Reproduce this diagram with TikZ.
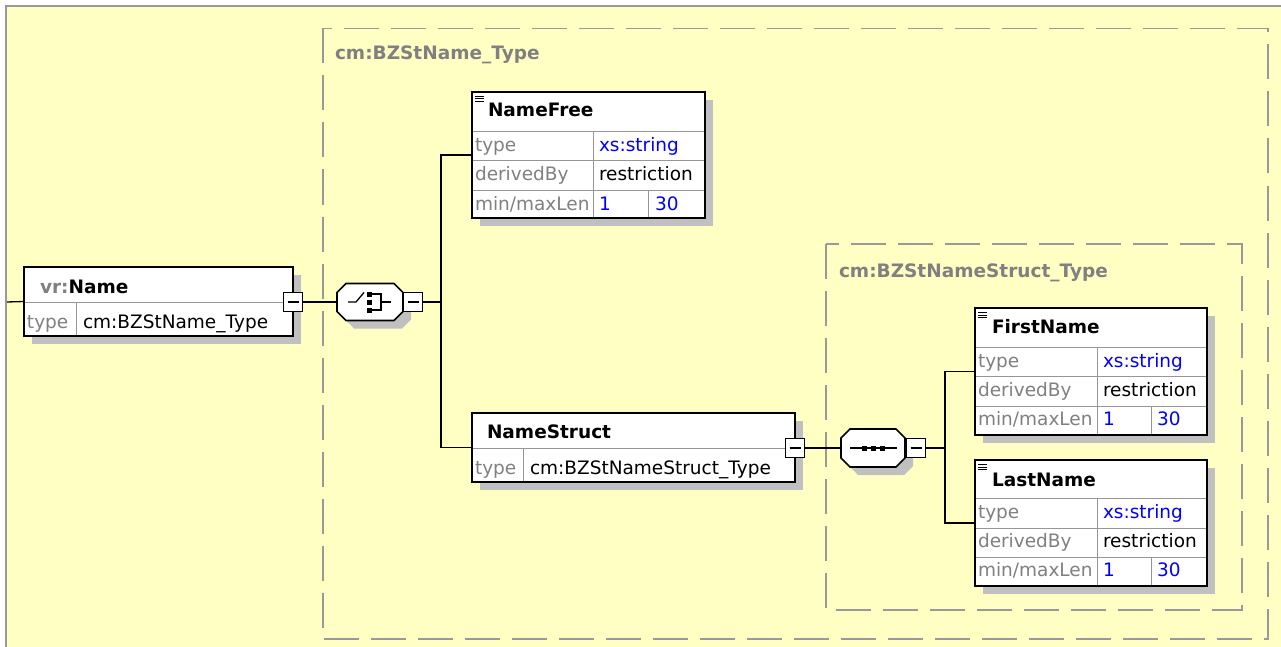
\documentclass[tikz,border=0pt]{standalone}
\usepackage{fontspec}
\setmainfont{DejaVu Sans}
\usetikzlibrary{shadows,calc}
\definecolor{paper}{RGB}{255,255,196}
\definecolor{frame}{RGB}{153,153,153}
\definecolor{shade}{RGB}{192,192,192}
\definecolor{label}{RGB}{128,128,128}
\definecolor{grid}{RGB}{150,150,150}
\definecolor{val}{RGB}{0,0,255}
\pgfdeclarelayer{bg}
\pgfsetlayers{bg,main}
\tikzset{
  every node/.style={font=\fontsize{18.5}{22}\selectfont, inner sep=0pt, outer sep=0pt},
  elem/.style={rectangle, draw=black, fill=white, line width=1.6pt,
    drop shadow={shadow xshift=8pt, shadow yshift=-8pt, fill=shade, opacity=1}},
  hit/.style={rectangle, draw=none},
  octa/.style={draw=black, fill=white, line width=1.6pt,
    drop shadow={shadow xshift=8pt, shadow yshift=-8pt, fill=shade, opacity=1}},
  collapse/.style={rectangle, draw=black, fill=white, line width=1.2pt,
    minimum width=19pt, minimum height=19pt},
  conn/.style={draw=black, line width=1.3pt},
  cell/.style={draw=grid, line width=1pt},
  group/.style={draw=frame, line width=1.6pt, dash pattern=on 35pt off 12pt},
  txt/.style={anchor=base west},
  key/.style={txt, text=label},
  val/.style={txt, text=val},
  hd/.style={txt, font=\fontsize{18.5}{22}\selectfont\bfseries},
  grouplbl/.style={txt, text=label, font=\fontsize{18.5}{22}\selectfont\bfseries},
  icon/.style={draw=black, line width=1pt},
}
\begin{document}
\begin{tikzpicture}[x=1pt,y=-1pt]
\useasboundingbox (0,0) rectangle (1281,647);

% canvas and window edge
\begin{pgfonlayer}{bg}
  \fill[white] (0,0) rectangle (1281,647);
  \fill[paper] (6,6) rectangle (1281,647);
  \fill[frame] (5,5) rectangle (1281,7);
  \fill[frame] (5,5) rectangle (7,647);
  % complex type groups
  \draw[group] (323,28.5) rectangle (1268,639);
  \draw[group] (826,244) rectangle (1242,610);
\end{pgfonlayer}

\node[grouplbl] (g1) at (335,60) {cm:BZStName\_Type};
\node[grouplbl] (g2) at (839,277) {cm:BZStNameStruct\_Type};

% ---------- vr:Name ----------
\node[elem, minimum width=269pt, minimum height=69pt] (vrname) at (158.5,301.5) {};
\draw[cell] (24.8,302) -- (292.2,302);
\draw[cell] (76,302) -- (76,335.2);
\node[hd] (vrnameT) at (40,293) {\textcolor{label}{vr:}Name};
\node[key] (vrnameK) at (27,328) {type};
\node[txt] (vrnameV) at (83,328) {cm:BZStName\_Type};

% ---------- choice compositor ----------
\node[hit, minimum width=66pt, minimum height=37pt] (choice) at (370,302) {};
\draw[octa] ([xshift=9pt]choice.north west) -- ([xshift=-9pt]choice.north east)
  -- ([yshift=-9pt]choice.north east) -- ([yshift=9pt]choice.south east)
  -- ([xshift=-9pt]choice.south east) -- ([xshift=9pt]choice.south west)
  -- ([yshift=9pt]choice.south west) -- ([yshift=-9pt]choice.north west) -- cycle;
\draw[icon, line width=1.3pt] (348,302) -- (356,302) -- (364,292.5);
\fill (366.5,291.5) rectangle (371.5,296.5);
\fill (366.5,299.5) rectangle (371.5,304.5);
\fill (366.5,307.5) rectangle (371.5,312.5);
\draw[icon, line width=1.3pt] (372,294) -- (381,294) -- (381,310) -- (372,310);
\draw[icon, line width=1.3pt] (381,302) -- (391,302);

% ---------- NameFree ----------
\node[elem, minimum width=233pt, minimum height=126pt] (nf) at (588.5,155) {};
\draw[cell] (472.8,132) -- (704.2,132);
\draw[cell] (472.8,161) -- (704.2,161);
\draw[cell] (472.8,190) -- (704.2,190);
\draw[cell] (593,132) -- (593,217.2);
\draw[cell] (648,190) -- (648,217.2);
\draw[icon] (475,96.5) -- (484,96.5) (475,99) -- (484,99) (475,101.5) -- (484,101.5);
\node[hd] (nfT) at (488,117) {NameFree};
\node[key] (nfK1) at (475,152) {type};
\node[val] (nfV1) at (599,152) {xs:string};
\node[key] (nfK2) at (475,181) {derivedBy};
\node[txt] (nfV2) at (599,181) {restriction};
\node[key] (nfK3) at (475,210) {min/maxLen};
\node[val] (nfV3) at (599,210) {1};
\node[val] (nfV4) at (655,210) {30};

% ---------- NameStruct ----------
\node[elem, minimum width=323pt, minimum height=69pt] (ns) at (633.5,447.5) {};
\draw[cell] (472.8,448) -- (794.2,448);
\draw[cell] (523,448) -- (523,481.2);
\node[hd] (nsT) at (487,438) {NameStruct};
\node[key] (nsK) at (475,474) {type};
\node[txt] (nsV) at (530,474) {cm:BZStNameStruct\_Type};

% ---------- sequence compositor ----------
\node[hit, minimum width=64pt, minimum height=38pt] (seq) at (873,448) {};
\draw[octa] ([xshift=9pt]seq.north west) -- ([xshift=-9pt]seq.north east)
  -- ([yshift=-9pt]seq.north east) -- ([yshift=9pt]seq.south east)
  -- ([xshift=-9pt]seq.south east) -- ([xshift=9pt]seq.south west)
  -- ([yshift=9pt]seq.south west) -- ([yshift=-9pt]seq.north west) -- cycle;
\draw[icon, line width=1.3pt] (850,448) -- (897,448);
\fill (862,445.5) rectangle (867,450.5);
\fill (871,445.5) rectangle (876,450.5);
\fill (880,445.5) rectangle (885,450.5);

% ---------- FirstName ----------
\node[elem, minimum width=232pt, minimum height=127pt] (fn) at (1091,371.5) {};
\draw[cell] (975.8,347) -- (1206.2,347);
\draw[cell] (975.8,376) -- (1206.2,376);
\draw[cell] (975.8,406) -- (1206.2,406);
\draw[cell] (1097,347) -- (1097,434.2);
\draw[cell] (1151,406) -- (1151,434.2);
\draw[icon] (978,312.5) -- (987,312.5) (978,315) -- (987,315) (978,317.5) -- (987,317.5);
\node[hd] (fnT) at (992,333) {FirstName};
\node[key] (fnK1) at (978,367) {type};
\node[val] (fnV1) at (1103,367) {xs:string};
\node[key] (fnK2) at (978,396) {derivedBy};
\node[txt] (fnV2) at (1103,396) {restriction};
\node[key] (fnK3) at (978,425) {min/maxLen};
\node[val] (fnV3) at (1103,425) {1};
\node[val] (fnV4) at (1157,425) {30};

% ---------- LastName ----------
\node[elem, minimum width=232pt, minimum height=126pt] (ln) at (1091,523) {};
\draw[cell] (975.8,498) -- (1206.2,498);
\draw[cell] (975.8,528) -- (1206.2,528);
\draw[cell] (975.8,557) -- (1206.2,557);
\draw[cell] (1097,498) -- (1097,585.2);
\draw[cell] (1151,557) -- (1151,585.2);
\draw[icon] (978,464.5) -- (987,464.5) (978,467) -- (987,467) (978,469.5) -- (987,469.5);
\node[hd] (lnT) at (992,486) {LastName};
\node[key] (lnK1) at (978,518) {type};
\node[val] (lnV1) at (1103,518) {xs:string};
\node[key] (lnK2) at (978,547) {derivedBy};
\node[txt] (lnV2) at (1103,547) {restriction};
\node[key] (lnK3) at (978,576) {min/maxLen};
\node[val] (lnV3) at (1103,576) {1};
\node[val] (lnV4) at (1157,576) {30};

% ---------- collapse buttons ----------
\node[collapse] (cb1) at (293,302) {};
\node[collapse] (cb2) at (413,302) {};
\node[collapse] (cb3) at (795,448) {};
\node[collapse] (cb4) at (916,448) {};
\foreach \b in {cb1,cb2,cb3,cb4}
  \draw[icon, line width=1.3pt] ([xshift=4pt]\b.west) -- ([xshift=-4pt]\b.east);

% ---------- connectors ----------
\coordinate (lead) at (7,302);
\coordinate (bus1) at (441,302);
\coordinate (bus2) at (945,448);
\begin{pgfonlayer}{bg}
  \draw[conn] (lead) -- (vrname.west);
  \draw[conn] (cb1.east) -- (choice.west);
  \draw[conn] (cb2.east) -- (bus1);
  \draw[conn] (nf.west) -| (bus1) |- (ns.west);
  \draw[conn] (cb3.east) -- (seq.west);
  \draw[conn] (cb4.east) -- (bus2);
  \draw[conn] (fn.west) -| (bus2) |- (ln.west);
\end{pgfonlayer}
\end{tikzpicture}
\end{document}
